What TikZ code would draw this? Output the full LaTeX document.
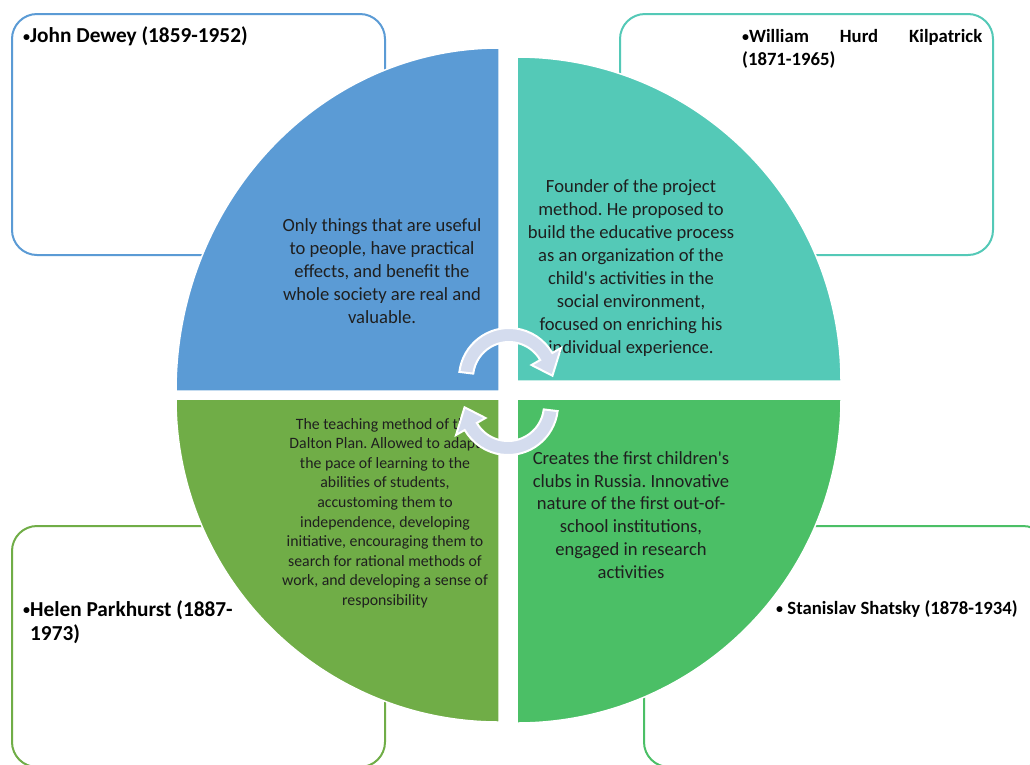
\documentclass[tikz,border=0pt]{standalone}
\usepackage{fontspec}
\setmainfont{Carlito}[Ligatures=TeXOff]
\frenchspacing
\definecolor{cblue}{HTML}{5B9BD5}
\definecolor{cteal}{HTML}{54C9B7}
\definecolor{colive}{HTML}{70AD47}
\definecolor{cgreen}{HTML}{4BBF66}
\definecolor{carrow}{HTML}{D4DCEE}
\newcommand\mybul{\raisebox{1.2pt}{\fontsize{14}{14}\selectfont •}}
\tikzset{
  namebox/.style={draw, line width=2pt, rounded corners=25pt, fill=white, inner sep=0pt, minimum width=373pt, minimum height=241pt},
  quad/.style={draw=white, line width=1.5pt},
  bodytext/.style={align=center, inner sep=0pt, font=\fontsize{18.6}{22.9}\selectfont, text=black!88},
  smalltext/.style={align=center, inner sep=0pt, font=\fontsize{15.8}{19.6}\selectfont, text=black!88},
  headtext/.style={inner sep=0pt, font=\fontsize{18.7}{23}\selectfont\bfseries},
  bigheadtext/.style={inner sep=0pt, font=\fontsize{21.3}{24}\selectfont\bfseries},
  cyclearrow/.style={fill=carrow, draw=white, line width=2pt, line join=miter}
}
\begin{document}
\begin{tikzpicture}[x=1pt,y=-1pt]
\useasboundingbox (0,0) rectangle (1030,764);
\clip (0,0) rectangle (1030,764);
% boxes
\node[namebox, draw=cblue] (boxTL) at (198.5,134.5) {};
\node[namebox, draw=cteal] (boxTR) at (806.5,134.5) {};
\node[namebox, draw=colive] (boxBL) at (198.5,646.5) {};
\node[namebox, draw=cgreen, minimum width=404pt] (boxBR) at (846,646.5) {};
% quadrants
\path[quad, fill=cblue] (499,391) -- (176,391) arc[start angle=180, end angle=270, x radius=323, y radius=343] -- cycle;
\path[quad, fill=cteal] (517,381) -- (517,57) arc[start angle=270, end angle=360, radius=324] -- cycle;
\path[quad, fill=colive] (499,399) -- (176,399) arc[start angle=180, end angle=90, radius=323] -- cycle;
\path[quad, fill=cgreen] (517,399) -- (841,399) arc[start angle=0, end angle=90, radius=324] -- cycle;
% headings
\node[bigheadtext, anchor=west] (dewey) at (23,36) {\mybul John Dewey (1859-1952)};
\node[headtext, anchor=north west, text width=240pt, align=left] (kilpatrick) at (742,29) {\mybul William\hfill Hurd\hfill Kilpatrick\\(1871-1965)};
\node[bigheadtext, anchor=north west, align=left] (helen) at (23,600) {\mybul\parbox[t]{230pt}{Helen Parkhurst (1887-\\1973)}};
\node[headtext, anchor=west] (shatsky) at (776,609) {\mybul\ Stanislav Shatsky (1878-1934)};
% body texts
\node[bodytext] (bluetext) at (382,271) {Only things that are useful\\to people, have practical\\effects, and benefit the\\whole society are real and\\valuable.};
\node[bodytext] (tealtext) at (631,268) {Founder of the project\\method. He proposed to\\build the educative process\\as an organization of the\\child's activities in the\\social environment,\\focused on enriching his\\individual experience.};
\node[smalltext] (olivetext) at (385,513) {The teaching method of the\\Dalton Plan. Allowed to adapt\\the pace of learning to the\\abilities of students,\\accustoming them to\\independence, developing\\initiative, encouraging them to\\search for rational methods of\\work, and developing a sense of\\responsibility};
\node[bodytext] (greentext) at (631,515) {Creates the first children's\\clubs in Russia. Innovative\\nature of the first out-of-\\school institutions,\\engaged in research\\activities};
% cycle arrows
\path[cyclearrow, shift={(509,378)}] (187:50) arc[start angle=187, end angle=330, radius=50] -- (330:60) -- (357:43.5) -- (330:26) -- (330:36) arc[start angle=330, end angle=187, radius=36] -- cycle;
\path[cyclearrow, shift={(508,405)}] (7:50) arc[start angle=7, end angle=150, radius=50] -- (150:60) -- (177:43.5) -- (150:26) -- (150:36) arc[start angle=150, end angle=7, radius=36] -- cycle;
\end{tikzpicture}
\end{document}
